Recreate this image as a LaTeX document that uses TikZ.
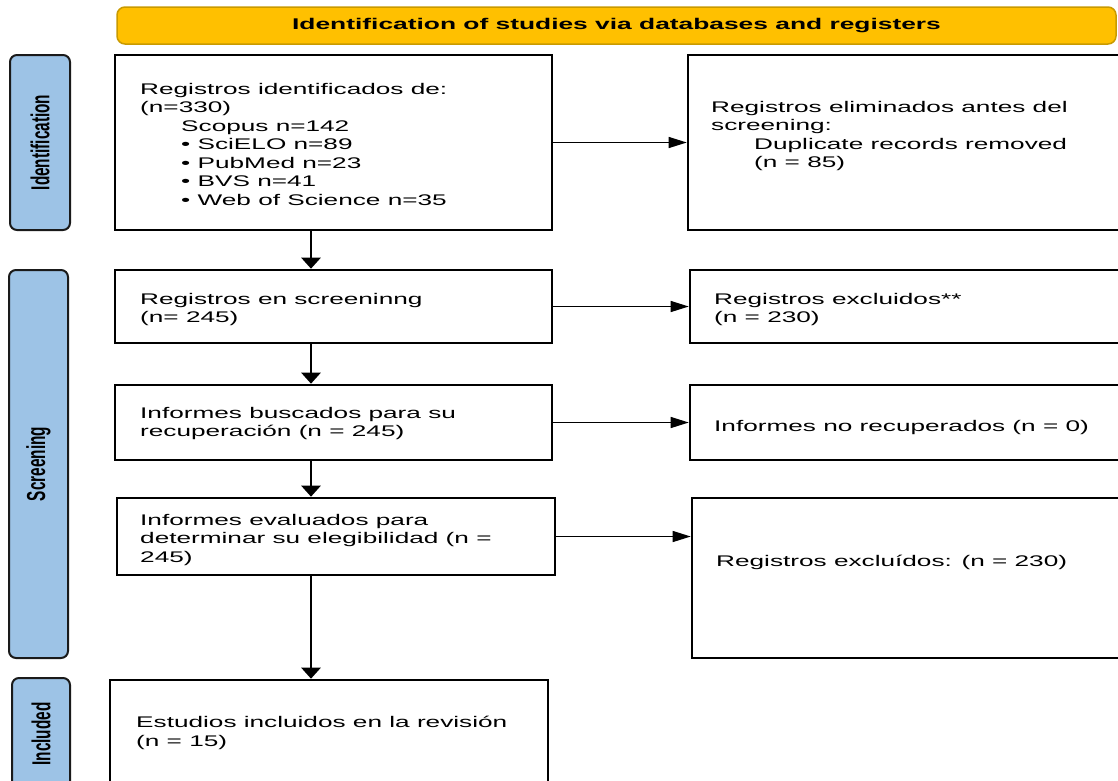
\documentclass[tikz,border=0pt]{standalone}
\usepackage{fontspec}
\setmainfont[FakeStretch=1.7]{Liberation Sans}
\newfontfamily\sidefont[FakeStretch=0.59]{Liberation Sans}
\usetikzlibrary{arrows.meta,positioning}
\definecolor{bannergold}{HTML}{FFC000}
\definecolor{bannerline}{HTML}{C99A00}
\definecolor{stageblue}{HTML}{9DC3E6}
\definecolor{stageline}{HTML}{1A1A1A}

\begin{document}
\begin{tikzpicture}[x=1pt,y=-1pt,
  box/.style={draw=black,line width=2.6pt,inner sep=0pt},
  stage/.style={draw=stageline,fill=stageblue,line width=2pt,rounded corners=7pt,rotate=90,inner sep=0pt,
    font=\sidefont\fontsize{26}{26}\selectfont\bfseries},
  banner/.style={draw=bannerline,fill=bannergold,line width=1.5pt,rounded corners=8pt,inner sep=0pt,
    font=\fontsize{15.5}{18}\selectfont\bfseries},
  txt/.style={anchor=north west,inner sep=0pt,align=left,font=\fontsize{15.4}{18.5}\selectfont},
  harrow/.style={line width=1.3pt,-{Triangle[length=18pt,width=11pt]}},
  varrow/.style={line width=2.6pt,-{Triangle[length=11pt,width=19pt]}}
]
    \useasboundingbox (0,0) rectangle (1118,780);
    \clip (0,0) rectangle (1118,780);

    % Header
    \node[banner,minimum width=999pt,minimum height=37pt] (banner) at (616.5,25.5)
        {Identification of studies via databases and registers};

    % Stage labels
    \node[stage,minimum width=175pt,minimum height=60pt] (idlab) at (40,142.5) {Identification};
    \node[stage,minimum width=388pt,minimum height=59pt] (scrlab) at (38.5,464) {Screening};
    \node[stage,minimum width=112pt,minimum height=58pt] (inclab) at (41,734) {Included};

    % Left column
    \node[box,minimum width=437pt,minimum height=175pt] (regid) at (333.5,142.5) {};
    \node[box,minimum width=437pt,minimum height=73pt] (regscr) at (333.5,306.5) {};
    \node[box,minimum width=437pt,minimum height=75pt] (infbus) at (333.5,422.5) {};
    \node[box,minimum width=438pt,minimum height=77pt] (infeval) at (336,536.5) {};
    \node[box,minimum width=438pt,minimum height=120pt] (incl) at (329,740) {};

    % Right column
    \node[box,minimum width=442pt,minimum height=175pt] (regdup) at (909,142.5) {};
    \node[box,minimum width=440pt,minimum height=73pt] (regexc) at (910,306.5) {};
    \node[box,minimum width=440pt,minimum height=75pt] (infnorec) at (910,422.5) {};
    \node[box,minimum width=438pt,minimum height=160pt] (regexcb) at (911,578) {};

    % Texts
    \node[txt] (regidtxt) at (140,83) {Registros identificados de:\\(n=330)\\
        \hspace*{41pt}Scopus n=142\\
        \hspace*{41pt}• SciELO n=89\\
        \hspace*{41pt}• PubMed n=23\\
        \hspace*{41pt}• BVS n=41\\
        \hspace*{41pt}• Web of Science n=35};
    \node[txt] (regduptxt) at (711,101) {Registros eliminados antes del\\screening:\\
        \hspace*{43pt}Duplicate records removed\\
        \hspace*{43pt}(n = 85)};
    \node[txt] (regscrtxt) at (140,293) {Registros en screeninng\\(n= 245)};
    \node[txt] (regexctxt) at (714,293) {Registros excluidos**\\(n = 230)};
    \node[txt] (infbustxt) at (140,407) {Informes buscados para su\\recuperación (n = 245)};
    \node[txt] (infnorectxt) at (714,420) {Informes no recuperados (n = 0)};
    \node[txt] (infevaltxt) at (140,514) {Informes evaluados para\\determinar su elegibilidad (n =\\245)};
    \node[txt] (regexcbtxt) at (716,555) {Registros excluídos: (n = 230)};
    \node[txt] (incltxt) at (136,716) {Estudios incluidos en la revisión\\(n = 15)};

    % Arrows
    \coordinate (spine) at (311,0);
    \draw[varrow] (regid.south -| spine) -- (regscr.north -| spine);
    \draw[varrow] (regscr.south -| spine) -- (infbus.north -| spine);
    \draw[varrow] (infbus.south -| spine) -- (infeval.north -| spine);
    \draw[varrow] (infeval.south -| spine) -- (incl.north -| spine);

    \draw[harrow] (regid.east) -- (regdup.west);
    \draw[harrow] (regscr.east) -- (regexc.west);
    \draw[harrow] (infbus.east) -- (infnorec.west);
    \draw[harrow] (infeval.east) -- (infeval.east -| regexcb.west);
\end{tikzpicture}
\end{document}
